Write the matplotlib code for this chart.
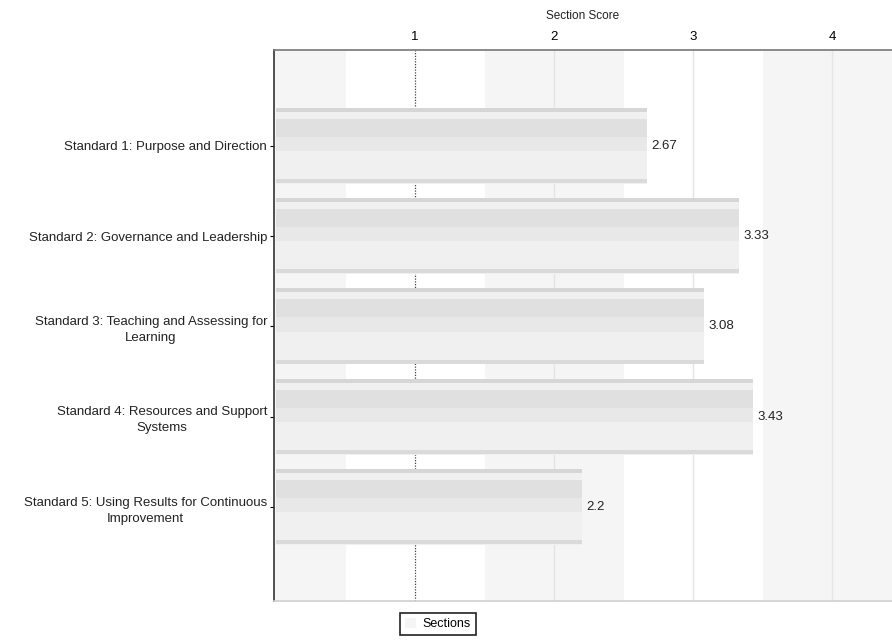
import matplotlib.pyplot as plt
import numpy as np

plt.rcParams['font.family'] = ['Liberation Sans', 'DejaVu Sans']

standards = ['Standard 1: Purpose and Direction',
             'Standard 2: Governance and Leadership',
             'Standard 3: Teaching and Assessing for\nLearning',
             'Standard 4: Resources and Support\nSystems',
             'Standard 5: Using Results for Continuous\nImprovement']
scores = [2.67, 3.33, 3.08, 3.43, 2.2]
score_labels = ['2.67', '3.33', '3.08', '3.43', '2.2']
xticks = [1, 2, 3, 4]

fig = plt.figure(figsize=(8.92, 6.41), dpi=100)
ax = fig.add_axes([274/892, 1 - 601/641, 618/892, 551/641])

y = np.arange(len(standards))

# alternating background bands
for c in [0, 2, 4]:
    ax.axvspan(c - 0.5, c + 0.5, color='#f5f5f5', zorder=0, lw=0)

# grid lines
ax.axvline(1, color='#444444', lw=0.9, ls=(0, (1, 1.2)), zorder=1)
for g in xticks[1:]:
    ax.axvline(g, color='#e4e4e4', lw=1.0, zorder=1)

# shaded bars built from a few layers
ax.barh(y, scores, height=0.84, color='#f0f0f0', zorder=2, label='Sections')
ax.barh(y - 0.40, scores, height=0.045, color='#d6d6d6', zorder=3)
ax.barh(y + 0.39, scores, height=0.045, color='#dadada', zorder=3)
ax.barh(y - 0.19, scores, height=0.22, color='#e0e0e0', zorder=3)
ax.barh(y - 0.02, scores, height=0.16, color='#e8e8e8', zorder=3)

for yi, s, t in zip(y, scores, score_labels):
    ax.text(s + 0.03, yi, t, va='center', ha='left', fontsize=9.5, color='#222222', zorder=5)

ax.set_xlim(-0.015, 4.43)
ax.set_ylim(5.04, -1.06)

ax.xaxis.tick_top()
ax.xaxis.set_label_position('top')
ax.set_xticks(xticks)
ax.set_xticklabels([str(v) for v in xticks], fontsize=9.5)
ax.tick_params(axis='x', length=0, pad=5)
ax.set_xlabel('Section Score', fontsize=8.5, labelpad=9, color='#222222')

ax.set_yticks(y)
ax.set_yticklabels(standards, fontsize=9.5, color='#222222',
                   multialignment='center', linespacing=1.45)
ax.tick_params(axis='y', length=3, width=0.8, pad=2)

ax.spines['right'].set_visible(False)
ax.spines['left'].set_color('#333333')
ax.spines['left'].set_linewidth(1.2)
ax.spines['top'].set_color('#777777')
ax.spines['top'].set_linewidth(1.2)
ax.spines['bottom'].set_color('#cfcfcf')
ax.spines['bottom'].set_linewidth(1.2)

leg = ax.legend(handles=[ax.patches[0]], labels=['Sections'], loc='center',
                bbox_to_anchor=(0.265, -0.042), fontsize=9, fancybox=False,
                handlelength=0.9, handleheight=0.9, handletextpad=0.5,
                borderpad=0.4, framealpha=1)
leg.get_frame().set_edgecolor('#222222')
leg.get_frame().set_linewidth(1.2)

fig.savefig('out.png', dpi=100)
